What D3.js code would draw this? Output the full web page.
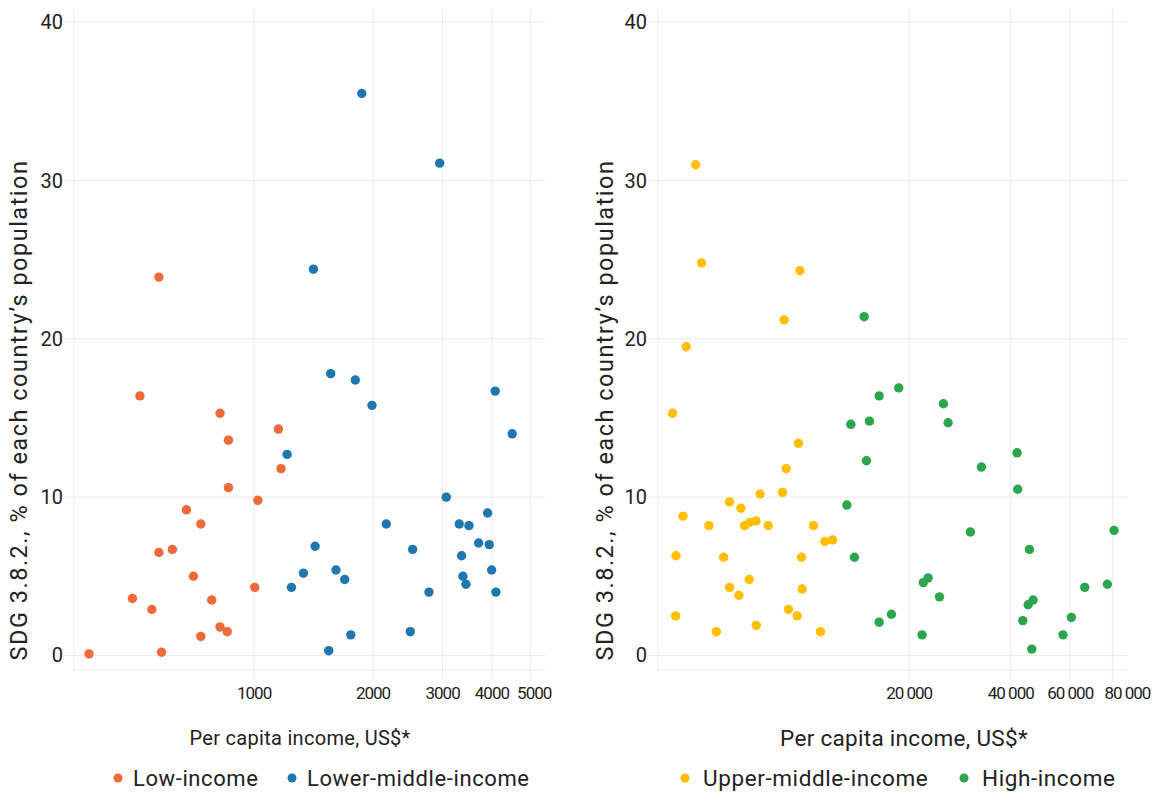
<html lang="en">
<head>
<meta charset="utf-8">
<title>SDG 3.8.2 vs per capita income</title>
<style>
  body { margin: 0; background: #fff; }
  svg text { font-family: Roboto, "Noto Sans", sans-serif; fill: #222; }
  .grid line { stroke: #ebebeb; stroke-width: 1; }
</style>
</head>
<body>
<svg id="chart" width="1163" height="793"></svg>
<script src="https://d3js.org/d3.v7.min.js"></script>
<script>
// [per capita income US$, SDG 3.8.2 %]
var lowIncome = [
  [382, 0.1], [514, 16.4], [820, 15.3], [861, 13.6], [1152, 14.3], [1170, 11.8],
  [861, 10.6], [1022, 9.8], [674, 9.2], [733, 8.3], [574, 6.5], [621, 6.7],
  [702, 5.0], [1004, 4.3], [492, 3.6], [551, 2.9], [781, 3.5], [820, 1.8],
  [855, 1.5], [733, 1.2], [583, 0.2], [574, 23.9]
];
var lowerMiddleIncome = [
  [1873, 35.5], [2949, 31.1], [1413, 24.4], [1563, 17.8], [1804, 17.4], [1988, 15.8],
  [4077, 16.7], [4502, 14.0], [1212, 12.7], [3065, 10.0], [3901, 9.0], [2161, 8.3],
  [3306, 8.3], [3499, 8.2], [3702, 7.1], [3938, 7.0], [1427, 6.9], [2520, 6.7],
  [3352, 6.3], [1333, 5.2], [1612, 5.4], [1696, 4.8], [3993, 5.4], [3378, 5.0],
  [3438, 4.5], [1243, 4.3], [2771, 4.0], [4094, 4.0], [1757, 1.3], [2485, 1.5],
  [1545, 0.3]
];
var upperMiddleIncome = [
  [4662, 31.0], [4853, 24.8], [9492, 24.3], [8531, 21.2], [4374, 19.5], [3984, 15.3],
  [9402, 13.4], [8646, 11.8], [7240, 10.2], [8432, 10.3], [5875, 9.7], [6350, 9.3],
  [4276, 8.8], [5104, 8.2], [6507, 8.2], [6733, 8.4], [7034, 8.5], [7648, 8.2],
  [10414, 8.2], [11256, 7.2], [11858, 7.3], [4078, 6.3], [5641, 6.2], [9597, 6.2],
  [6720, 4.8], [5875, 4.3], [6263, 3.8], [9641, 4.2], [4067, 2.5], [8782, 2.9],
  [9318, 2.5], [7048, 1.9], [5369, 1.5], [10925, 1.5]
];
var highIncome = [
  [14716, 21.4], [13439, 14.6], [15258, 14.8], [14948, 12.3], [13079, 9.5], [13774, 6.2],
  [16300, 16.4], [18638, 16.9], [25265, 15.9], [26087, 14.7], [41750, 12.8], [32740, 11.9],
  [41950, 10.5], [30370, 7.8], [80900, 7.9], [45420, 6.7], [22030, 4.6], [22770, 4.9],
  [24600, 3.7], [66250, 4.3], [77270, 4.5], [45030, 3.2], [46590, 3.5], [17724, 2.6],
  [16300, 2.1], [60460, 2.4], [43410, 2.2], [21840, 1.3], [57120, 1.3], [46170, 0.4]
];
var leftTicks = [1000, 2000, 3000, 4000, 5000];
var rightTicks = [20000, 40000, 60000, 80000];
var yTicks = [0, 10, 20, 30, 40];
var yTitle = "SDG 3.8.2., % of each country\u2019s population";
var xTitle = "Per capita income, US$*";

var colors = {
  "Low-income": "#ef6a3a",
  "Lower-middle-income": "#1f77b0",
  "Upper-middle-income": "#ffbf00",
  "High-income": "#2ca54d"
};

var svg = d3.select("#chart");
var plotTop = 8, plotBottom = 670;

var y = d3.scaleLinear().domain([-0.92, 40.9]).range([plotBottom, plotTop]);

function panel(opts) {
  var x = d3.scaleLog().domain(opts.domain).range([opts.left, opts.right]);
  var g = svg.append("g");

  // gridlines
  var grid = g.append("g").attr("class", "grid");
  grid.selectAll(".gy").data(yTicks).enter().append("line")
    .attr("x1", opts.left - 9).attr("x2", opts.right)
    .attr("y1", d => y(d)).attr("y2", d => y(d));
  grid.selectAll(".gx").data(opts.ticks).enter().append("line")
    .attr("x1", d => x(d)).attr("x2", d => x(d))
    .attr("y1", plotTop).attr("y2", plotBottom + 10);
  grid.append("line").attr("x1", opts.left).attr("x2", opts.left).attr("y1", plotTop).attr("y2", plotBottom);
  grid.append("line").attr("x1", opts.left).attr("x2", opts.right).attr("y1", plotBottom).attr("y2", plotBottom);

  // y tick labels
  g.selectAll(".yl").data(yTicks).enter().append("text")
    .attr("x", opts.left - 11).attr("y", d => y(d)).attr("dy", "0.35em")
    .attr("text-anchor", "end").style("font-size", "20px")
    .text(d => d);

  // x tick labels (last one nudged right so labels don't collide)
  g.selectAll(".xl").data(opts.ticks).enter().append("text")
    .attr("x", (d, i) => x(d) + (i === opts.ticks.length - 1 ? opts.lastNudge : 0))
    .attr("y", 693).attr("dy", "0.35em")
    .attr("text-anchor", "middle").style("font-size", "17px")
    .style("letter-spacing", "-1px")
    .text(opts.fmt);

  // y title
  g.append("text")
    .attr("transform", "translate(" + (opts.left - opts.titleOffset) + ",410) rotate(-90)")
    .attr("text-anchor", "middle").style("font-size", "23.5px")
    .style("letter-spacing", "1.5px")
    .text(yTitle);

  // x title
  g.append("text")
    .attr("x", opts.titleX).attr("y", 738).attr("dy", "0.35em")
    .attr("text-anchor", "middle").style("font-size", opts.titleSize)
    .style("letter-spacing", "0.3px")
    .text(xTitle);

  // points
  opts.series.forEach(function(s) {
    g.append("g").selectAll("circle").data(s.data).enter().append("circle")
      .attr("cx", d => x(d[0])).attr("cy", d => y(d[1]))
      .attr("r", 4.7).attr("fill", colors[s.name]);
  });

  // legend
  opts.legend.forEach(function(l) {
    g.append("circle").attr("cx", l.x).attr("cy", 778).attr("r", 4.5).attr("fill", colors[l.name]);
    g.append("text").attr("x", l.x + opts.legendGap).attr("y", 778).attr("dy", "0.35em")
      .style("font-size", opts.legendSize).style("letter-spacing", "0.6px")
      .text(l.name);
  });
}

panel({
  left: 74, right: 545, domain: [350, 5450], ticks: leftTicks, lastNudge: 4, titleOffset: 47,
  fmt: d => d, titleX: 300, titleSize: "20px", legendGap: 15, legendSize: "22px",
  series: [{ name: "Low-income", data: lowIncome }, { name: "Lower-middle-income", data: lowerMiddleIncome }],
  legend: [{ name: "Low-income", x: 118 }, { name: "Lower-middle-income", x: 292 }]
});

panel({
  left: 658, right: 1128, domain: [3607, 88980], ticks: rightTicks, lastNudge: 15, titleOffset: 45,
  fmt: d => d3.format(",")(d).replace(",", " "), titleX: 904, titleSize: "22.5px", legendGap: 18, legendSize: "22.5px",
  series: [{ name: "Upper-middle-income", data: upperMiddleIncome }, { name: "High-income", data: highIncome }],
  legend: [{ name: "Upper-middle-income", x: 685 }, { name: "High-income", x: 964 }]
});
</script>
</body>
</html>
